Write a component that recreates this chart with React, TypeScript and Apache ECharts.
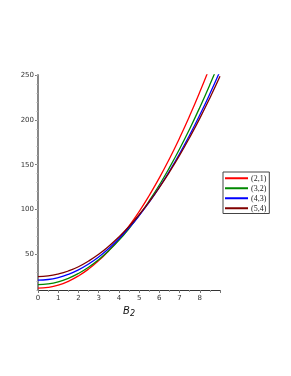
import React, { useEffect, useRef } from "react";
import * as echarts from "echarts";

const xValues = [0, 0.5, 1, 1.5, 2, 2.5, 3, 3.5, 4, 4.5, 5, 5.5, 6, 6.5, 7, 7.5, 8, 8.5, 9];
const seriesNames = ["(2,1)", "(3,2)", "(4,3)", "(5,4)"];
const seriesColors = ["#ff0000", "#008800", "#0000ff", "#800000"];
const red21 = [12, 12.9, 15.4, 19.7, 25.7, 33.4, 42.8, 53.9, 66.7, 81.3, 97.5, 115.5, 135.1, 156.5, 179.6, 204.4, 230.9, 259.1, 289];
const green32 = [16, 16.8, 19.1, 23.0, 28.4, 35.3, 43.8, 53.9, 65.4, 78.6, 93.3, 109.5, 127.2, 146.6, 167.4, 189.8, 213.8, 239.3, 266.3];
const blue43 = [21, 21.7, 23.9, 27.5, 32.5, 39, 46.9, 56.3, 67.1, 79.3, 93, 108.1, 124.7, 142.7, 162.1, 183, 205.3, 229.1, 254.3];
const maroon54 = [25, 25.7, 27.8, 31.2, 36, 42.3, 49.8, 58.8, 69.2, 80.9, 94, 108.5, 124.4, 141.6, 160.2, 180.3, 201.6, 224.4, 248.6];
const seriesValues = [red21, green32, blue43, maroon54];
const yLabels = [50, 100, 150, 200, 250];

export default function App() {
  const ref = useRef<HTMLDivElement>(null);
  useEffect(() => {
    if (!ref.current) return;
    const chart = echarts.init(ref.current, null, { renderer: "svg" });
    const labelFont = { fontFamily: "DejaVu Sans", fontSize: 7, color: "#333" };
    chart.setOption({
      animation: false,
      grid: { left: 38, right: 71, top: 75, bottom: 86 },
      legend: {
        orient: "vertical",
        left: 223,
        top: 172,
        icon: "rect",
        itemWidth: 23,
        itemHeight: 2,
        itemGap: 1.5,
        padding: [2, 3, 1, 2],
        borderColor: "#444",
        borderWidth: 1,
        borderRadius: 0,
        textStyle: { fontFamily: "Liberation Serif", fontSize: 8, lineHeight: 8.5, color: "#222", padding: [0, 0, 0, -2] },
        data: seriesNames,
      },
      xAxis: {
        type: "value",
        min: 0,
        max: 9,
        interval: 1,
        name: "{b|B}{s|2}",
        nameLocation: "middle",
        nameGap: 11,
        nameTextStyle: {
          rich: {
            b: { fontFamily: "DejaVu Sans", fontStyle: "italic", fontSize: 10, color: "#111" },
            s: { fontFamily: "DejaVu Sans", fontStyle: "italic", fontSize: 8, color: "#111", verticalAlign: "bottom", padding: [6, 0, 0, 0] },
          },
        },
        axisLine: { show: true, lineStyle: { color: "#333", width: 1 } },
        axisTick: { show: true, inside: false, length: 3, lineStyle: { color: "#777" } },
        minorTick: { show: true, splitNumber: 2, length: 2, lineStyle: { color: "#999" } },
        axisLabel: { ...labelFont, margin: 4, showMaxLabel: false, formatter: (v: number) => (v === 9 ? "" : String(v)) },
        splitLine: { show: false },
      },
      yAxis: [
        {
          type: "value",
          min: 10,
          max: 250,
          axisLine: { show: true, lineStyle: { color: "#888", width: 2 } },
          axisTick: { show: true, length: 3, customValues: yLabels, lineStyle: { color: "#777" } },
          axisLabel: { ...labelFont, margin: 4, customValues: yLabels },
          splitLine: { show: false },
        },
        {
          type: "value",
          min: 10,
          max: 250,
          interval: 10,
          position: "left",
          axisLine: { show: false },
          axisTick: { show: true, length: 1.5, lineStyle: { color: "#aaa" } },
          axisLabel: { show: false },
          splitLine: { show: false },
        },
      ],
      series: seriesNames.map((name, i) => ({
        name,
        type: "line",
        yAxisIndex: 0,
        smooth: true,
        symbol: "none",
        clip: true,
        color: seriesColors[i],
        lineStyle: { color: seriesColors[i], width: 1.3 },
        data: xValues.map((x, j) => [x, seriesValues[i][j]]),
      })),
    });
    return () => chart.dispose();
  }, []);
  return <div ref={ref} style={{ position: "fixed", left: 0, top: 0, width: 291, height: 376 }} />;
}
